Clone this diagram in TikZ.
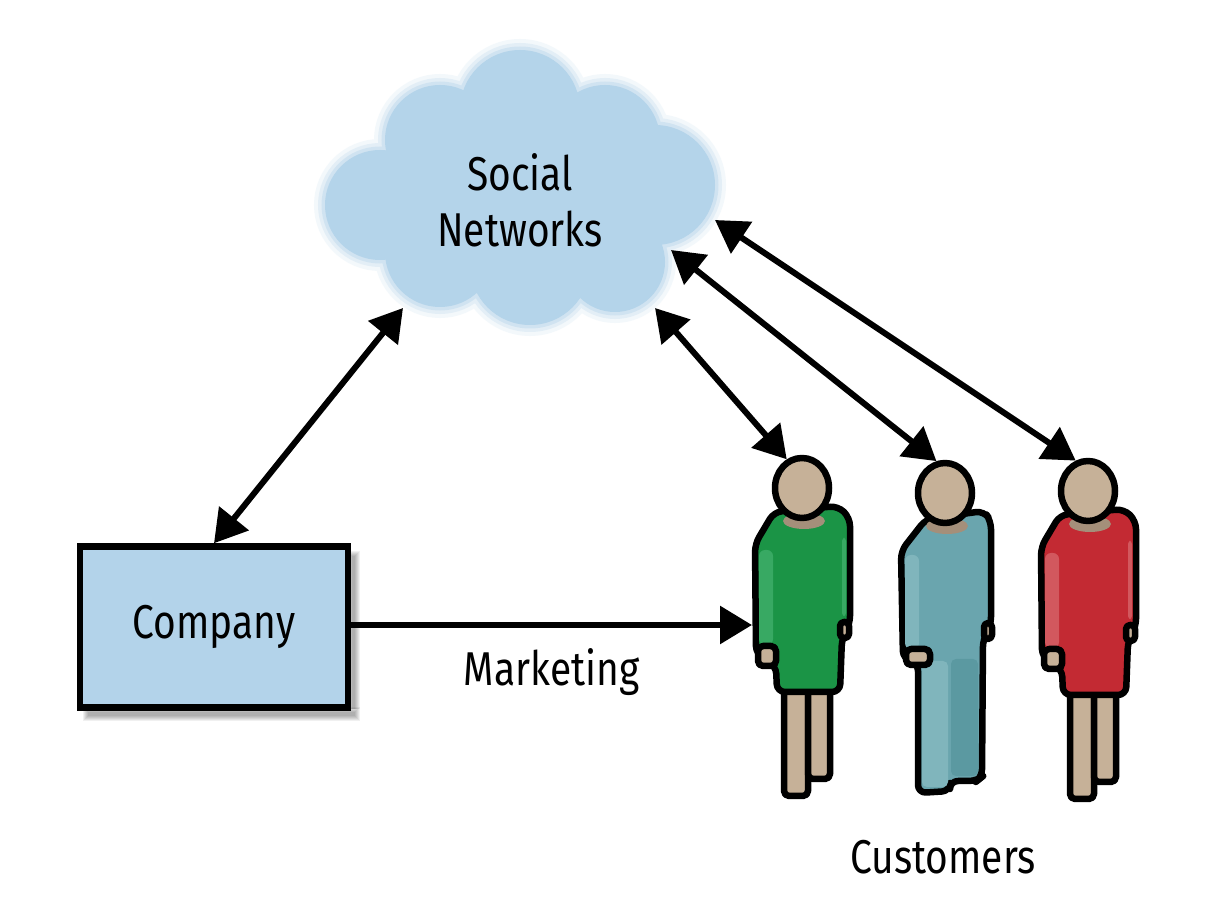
\documentclass[tikz,border=0pt]{standalone}
\usepackage{fontspec}
\setmainfont{Fira Sans}[FakeStretch=0.82]
\usetikzlibrary{arrows.meta, positioning, calc, shapes.geometric, backgrounds}

\definecolor{cloudblue}{HTML}{B4D4EA}
\definecolor{boxblue}{HTML}{B3D3EA}
\definecolor{skin}{HTML}{C6B198}
\definecolor{collar}{HTML}{A48F7A}
\definecolor{custgreen}{HTML}{1B9446}
\definecolor{custgreenlt}{HTML}{38A963}
\definecolor{custteal}{HTML}{6AA5AE}
\definecolor{custteallt}{HTML}{80B5BC}
\definecolor{custtealdk}{HTML}{5B99A1}
\definecolor{custred}{HTML}{C32A33}
\definecolor{custredlt}{HTML}{D2585E}

\tikzset{
  label text/.style={font=\fontsize{27}{32}\selectfont},
  link/.style={line width=1.2mm, {Triangle[length=6.4mm,width=7.4mm]}-{Triangle[length=6.4mm,width=7.4mm]}},
  push/.style={line width=1.2mm, -{Triangle[length=6.4mm,width=7.4mm]}},
  companybox/.style={draw, line width=1.3mm, fill=boxblue, minimum width=53.6mm,
    minimum height=32.2mm, label text},
  outline/.style={draw=black, line width=1.3mm, line join=round},
  head/.style={ellipse, outline, fill=skin, minimum width=10.8mm, minimum height=12mm, inner sep=0pt},
  pics/dress/.style n args={2}{code={
    % legs
    \draw[outline, fill=skin, rounded corners=1mm] (-18,190) rectangle (6,308);
    \draw[outline, fill=skin, rounded corners=1mm] (6,190) rectangle (28,291);
    % dress
    \filldraw[outline, fill=#1, rounded corners=1.6mm] (-28,24) -- (36,18) -- (48,30) -- (48,136)
      -- (40,150) -- (38,204) -- (-25,204) -- (-26,178) -- (-46,166) -- (-47,56) -- cycle;
    \fill[#2, rounded corners=1.2mm] (-43,62) rectangle (-29,157);
    \fill[#2, rounded corners=0.6mm] (40,50) rectangle (44,128);
    % hands
    \draw[outline, fill=skin, rounded corners=1mm] (-44,158) rectangle (-26,178);
    \draw[outline, fill=skin, rounded corners=0.8mm] (38,134) rectangle (47,150);
    \fill[collar] (2,33) ellipse [x radius=21, y radius=8];
    \node[head] (-head) at (0,0) {};
    \coordinate (-arm) at (-50,137);
  }},
  pics/suit/.style n args={3}{code={
    % shirt and trousers
    \filldraw[outline, fill=#1, rounded corners=1.6mm] (-19,26) -- (39,18) -- (46,28) -- (46,132)
      -- (38,146) -- (37,284) -- (32,288) -- (5,288) -- (5,298) -- (-27,300) -- (-27,170)
      -- (-42,166) -- (-44,58) -- cycle;
    \fill[#2, rounded corners=1.2mm] (-40,62) rectangle (-26,156);
    \fill[#2, rounded corners=1mm] (-23,168) rectangle (3,294);
    \fill[#3, rounded corners=1mm] (6,166) rectangle (33,283);
    % hands
    \draw[outline, fill=skin, rounded corners=1mm] (-39,156) rectangle (-15,172);
    \draw[outline, fill=skin, rounded corners=0.8mm] (39,130) rectangle (47,146);
    \fill[collar] (2,33) ellipse [x radius=21, y radius=8];
    \node[head] (-head) at (0,0) {};
  }}
}

\def\cloudpuffs{(520,110) circle [radius=60] (440,140) circle [radius=55]
  (380,205) circle [radius=55] (440,252) circle [radius=55] (530,265) circle [radius=60]
  (615,262) circle [radius=50] (655,185) circle [radius=60] (605,140) circle [radius=55]
  (520,200) ellipse [x radius=130, y radius=80]}

\begin{document}
\begin{tikzpicture}[x=0.2mm, y=-0.2mm]
\useasboundingbox (0,0) rectangle (1206,918);

% cloud with soft edge
\foreach \w/\o in {4.4mm/0.15, 2.8mm/0.25, 1.4mm/0.4} {
  \begin{scope}[transparency group, opacity=\o]
    \filldraw[cloudblue, line width=\w] \cloudpuffs;
  \end{scope}
}
\fill[cloudblue] \cloudpuffs;
\node[label text, align=center] (cloud) at (520,200) {Social\\Networks};

% company
\node[companybox] (company) at (214,627) {Company};
\begin{scope}[on background layer]
\fill[white] (0,0) rectangle (1206,918);
\foreach \s in {0,...,5}
  \fill[black, opacity=0.06] ($(company.south west)+(6+\s,-4+\s)$) rectangle ($(company.south east)+(9-\s,10-\s)$);
\foreach \s in {0,...,5}
  \fill[black, opacity=0.06] ($(company.north east)+(-4+\s,8+\s)$) rectangle ($(company.south east)+(9-\s,-2)$);
\end{scope}

% customers
\pic (p1) at (802,488) {dress={custgreen}{custgreenlt}};
\pic (p2) at (945,493) {suit={custteal}{custteallt}{custtealdk}};
\pic (p3) at (1088,491) {dress={custred}{custredlt}};
\node[label text] (customers) at (943,857) {Customers};

% rim of the cloud
\coordinate (rim1) at (403,308);
\coordinate (rim2) at (655,308);
\coordinate (rim3) at (671,250);
\coordinate (rim4) at (715,220);

\draw[link] (company.north) -- (rim1);
\draw[link] (rim2) -- (p1-head.118);
\draw[link] (rim3) -- (p2-head.105);
\draw[link] (rim4) -- (p3-head.112);
\draw[push] (company.east |- p1-arm) -- (p1-arm)
  node[label text, midway, yshift=-9.4mm] (marketing) {Marketing};

\end{tikzpicture}
\end{document}
